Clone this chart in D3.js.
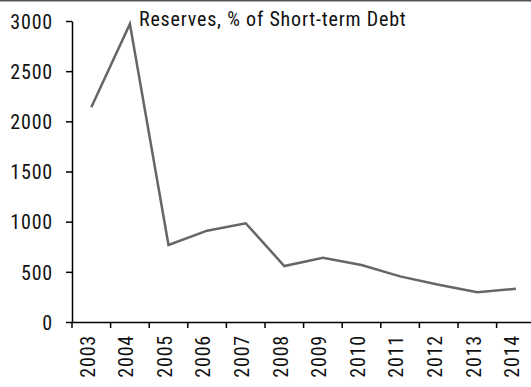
<!DOCTYPE html>
<html lang="en">
<head>
    <meta charset="UTF-8">
    <title>Reserves</title>
    <script src="https://cdn.jsdelivr.net/npm/d3@7"></script>
    <style>
        body { margin: 0; background: #fff; }
        svg { display: block; }
        text { font-family: "Roboto Condensed", "Liberation Sans", Arial, sans-serif; fill: #111; }
    </style>
</head>
<body>
    <script>
        var years = ["2003", "2004", "2005", "2006", "2007", "2008", "2009", "2010", "2011", "2012", "2013", "2014"];
        var reserves = [2140, 2970, 768, 910, 984, 558, 641, 568, 455, 372, 296, 332];
        var yTicks = [0, 500, 1000, 1500, 2000, 2500, 3000];
        var title = "Reserves, % of Short-term Debt";

        var nw = 531, nh = 387;
        var padding = { left: 72, top: 21, bottom: 65 };

        var svg = d3.select("body")
            .append("svg")
            .attr("width", nw)
            .attr("height", nh);

        // top frame line
        svg.append("line")
            .attr("x1", 0).attr("x2", nw)
            .attr("y1", 0.75).attr("y2", 0.75)
            .attr("stroke", "#555")
            .attr("stroke-width", 1.5);

        var xscale = d3.scaleBand()
            .domain(years)
            .range([padding.left, padding.left + 12 * 38.6]);

        var yscale = d3.scaleLinear()
            .domain([0, 3000])
            .range([nh - padding.bottom, padding.top]);

        // y axis
        var yaxis = d3.axisLeft(yscale)
            .tickValues(yTicks)
            .tickFormat(d3.format("d"))
            .tickSize(6)
            .tickSizeOuter(0)
            .tickPadding(13);

        var gy = svg.append("g")
            .attr("transform", "translate(" + padding.left + ",0)")
            .call(yaxis);
        gy.selectAll("text")
            .style("font-size", "20px")
            .style("letter-spacing", "0.8px")
            .attr("dy", "0.36em");

        // x axis: labels at band centers, ticks at band edges
        var xaxis = d3.axisBottom(xscale)
            .tickSize(0)
            .tickSizeOuter(0);

        var gx = svg.append("g")
            .attr("transform", "translate(0," + yscale(0) + ")")
            .call(xaxis);
        gx.selectAll("text")
            .style("font-size", "20px")
            .style("letter-spacing", "0.8px")
            .attr("text-anchor", "end")
            .attr("transform", "rotate(-90)")
            .attr("x", -13)
            .attr("y", -4)
            .attr("dy", "0.36em");

        gx.selectAll(".edge")
            .data(years)
            .enter()
            .append("line")
            .attr("class", "edge")
            .attr("x1", function(d) { return xscale(d); })
            .attr("x2", function(d) { return xscale(d); })
            .attr("y1", 0)
            .attr("y2", 6)
            .attr("stroke", "#000");

        svg.selectAll(".domain, .tick line, .edge")
            .attr("stroke-width", 1.5);

        // data line
        var line = d3.line()
            .x(function(d, i) { return xscale(years[i]) + xscale.bandwidth() / 2; })
            .y(function(d) { return yscale(d); });

        svg.append("path")
            .datum(reserves)
            .attr("d", line)
            .attr("fill", "none")
            .attr("stroke", "#666")
            .attr("stroke-width", 2.5);

        svg.append("text")
            .attr("x", 139)
            .attr("y", 26)
            .style("font-size", "20px")
            .style("letter-spacing", "0.8px")
            .text(title);
    </script>
</body>
</html>
